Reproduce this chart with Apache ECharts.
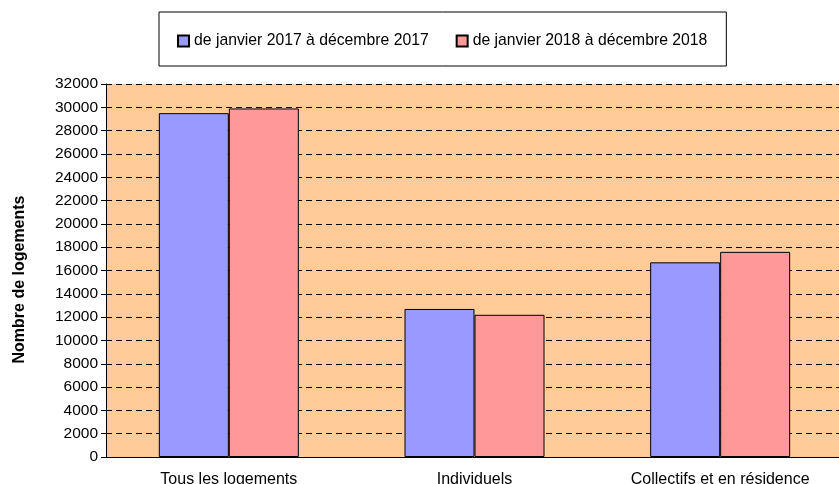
<!DOCTYPE html>
<html><head><meta charset="utf-8">
<script src="https://cdn.jsdelivr.net/npm/echarts@6/dist/echarts.min.js"></script>
<style>html,body{margin:0;padding:0;background:#fff}#c{width:839px;height:484px}</style>
</head><body><div id="c"></div>
<script>
const categories = ['Tous les logements', 'Individuels', 'Collectifs et en résidence'];
const seriesNames = ['de janvier 2017 à décembre 2017', 'de janvier 2018 à décembre 2018'];
const values2017 = [29500, 12700, 16700];
const values2018 = [29900, 12200, 17600];
const yTitle = 'Nombre de logements';

const chart = echarts.init(document.getElementById('c'));
const font = 'Liberation Sans, Arial, sans-serif';
chart.setOption({
  animation: false,
  textStyle: { fontFamily: font },
  legend: {
    left: 159, top: 12,
    padding: [21, 19, 17, 18],
    borderColor: '#000', borderWidth: 1,
    itemWidth: 11, itemHeight: 11, itemGap: 27,
    icon: 'rect',
    textStyle: { fontSize: 15.75, color: '#000', fontFamily: font },
    data: seriesNames
  },
  grid: { left: 106, top: 84, width: 737, height: 373, show: true, backgroundColor: '#FFCC99', borderWidth: 0,
    outerBoundsMode: 'none', containLabel: false },
  xAxis: {
    type: 'category', data: categories,
    axisLine: { lineStyle: { color: '#000' } },
    axisTick: { length: 5, lineStyle: { color: '#000' } },
    axisLabel: { fontSize: 16, color: '#000', margin: 15, fontFamily: font }
  },
  yAxis: {
    type: 'value', min: 0, max: 32000, interval: 2000,
    name: yTitle, nameLocation: 'middle', nameRotate: 90, nameGap: 78,
    nameTextStyle: { fontSize: 16, fontWeight: 'bold', color: '#000', fontFamily: font, padding: [0, 18, 0, 0] },
    axisLine: { show: true, lineStyle: { color: '#000' } },
    axisTick: { show: true, length: 5, lineStyle: { color: '#000' } },
    axisLabel: { fontSize: 15.5, color: '#000', margin: 8, fontFamily: font, formatter: v => String(v) },
    splitLine: { lineStyle: { color: '#000', type: [6, 4], width: 1 } }
  },
  series: [
    { name: seriesNames[0], type: 'bar', data: values2017, barWidth: 70, barGap: '0%',
      itemStyle: { color: '#9999FF', borderColor: '#000', borderWidth: 1 } },
    { name: seriesNames[1], type: 'bar', data: values2018, barWidth: 70, barGap: '0%',
      itemStyle: { color: '#FF9999', borderColor: '#000', borderWidth: 1 } }
  ]
});
</script></body></html>
